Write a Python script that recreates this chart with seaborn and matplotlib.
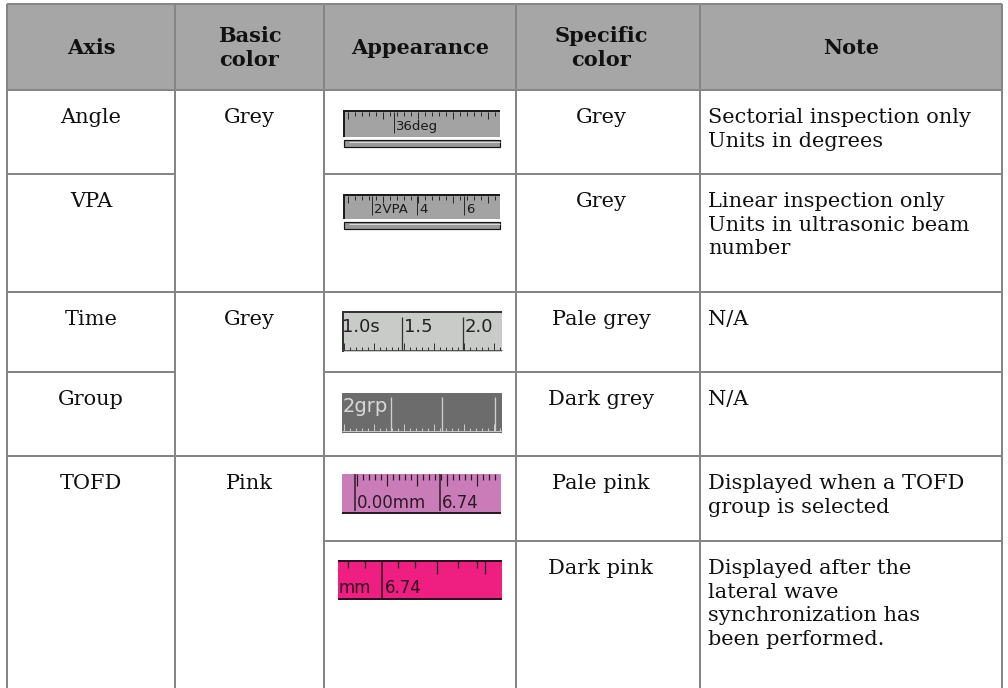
import matplotlib
matplotlib.use("Agg")
import matplotlib.pyplot as plt
import seaborn as sns
from matplotlib.patches import Rectangle

# Table content
header_labels = ["Axis", "Basic\ncolor", "Appearance", "Specific\ncolor", "Note"]
axis_names = ["Angle", "VPA", "Time", "Group", "TOFD"]
basic_colors = ["Grey", "Grey", "Pink"]
specific_colors = ["Grey", "Grey", "Pale grey", "Dark grey", "Pale pink", "Dark pink"]
notes = [
    "Sectorial inspection only\nUnits in degrees",
    "Linear inspection only\nUnits in ultrasonic beam\nnumber",
    "N/A",
    "N/A",
    "Displayed when a TOFD\ngroup is selected",
    "Displayed after the\nlateral wave\nsynchronization has\nbeen performed.",
]
ruler_labels = [["36deg"], ["2VPA", "4", "6"], ["1.0s", "1.5", "2.0"],
                ["2grp"], ["0.00mm", "6.74"], ["mm", "6.74"]]

# Layout (pixels)
col_edges = [7, 175, 324, 516, 700, 1002]
col_shift = [0, 0, 0, -7, 0]
row_edges = [90, 174, 292, 372, 456, 541, 690]
header_top = 4
axis_spans = [(0, 1), (1, 2), (2, 3), (3, 4), (4, 6)]
basic_spans = [(0, 2), (2, 4), (4, 6)]
LINE = "#858585"
HEAD_BG = "#a6a6a6"
PX = 0.72  # points per pixel at 100 dpi

sns.set_theme(style="white")
plt.rcParams["font.family"] = ["DejaVu Serif"]

fig = plt.figure(figsize=(10.08, 6.88), dpi=100)
ax = fig.add_axes([0, 0, 1, 1])
ax.set_xlim(0, 1008)
ax.set_ylim(688, 0)
ax.axis("off")


def rect(x, y, w, h, fc, ec="none", lw=0):
    ax.add_patch(Rectangle((x, y), w, h, facecolor=fc, edgecolor=ec, linewidth=lw * PX))


def hl(y, x0, x1, c, w=1):
    ax.plot([x0, x1], [y, y], color=c, lw=w * PX, solid_capstyle="butt")


def vl(x, y0, y1, c, w=1):
    ax.plot([x, x], [y0, y1], color=c, lw=w * PX, solid_capstyle="butt")


def rtext(x, y, s, c="#1a1a1a", size=9):
    ax.text(x, y, s, color=c, fontsize=size, family="DejaVu Sans",
            ha="left", va="center")


# header
rect(col_edges[0], header_top, col_edges[-1] - col_edges[0], row_edges[0] - header_top, HEAD_BG)
for i, lab in enumerate(header_labels):
    cx = (col_edges[i] + col_edges[i + 1]) / 2 + col_shift[i]
    ax.text(cx, (header_top + row_edges[0]) / 2 + 1, lab, ha="center", va="center",
            fontsize=15, fontweight="bold", linespacing=1.22, color="#111111")

# grid lines
hl(header_top, col_edges[0], col_edges[-1], LINE, 2)
hl(row_edges[0], col_edges[0], col_edges[-1], LINE, 2)
for x in col_edges:
    vl(x, header_top, 688, LINE, 2)
for r in range(1, 6):
    y = row_edges[r]
    if r == 5:
        hl(y, col_edges[2], col_edges[-1], LINE, 2)
    elif r % 2 == 0:
        hl(y, col_edges[0], col_edges[-1], LINE, 2)
    else:
        hl(y, col_edges[0], col_edges[1], LINE, 2)
        hl(y, col_edges[2], col_edges[-1], LINE, 2)

PAD = 18
for name, (a, b) in zip(axis_names, axis_spans):
    ax.text((col_edges[0] + col_edges[1]) / 2, row_edges[a] + PAD, name,
            ha="center", va="top", fontsize=15, color="#111111")
for name, (a, b) in zip(basic_colors, basic_spans):
    ax.text((col_edges[1] + col_edges[2]) / 2, row_edges[a] + PAD, name,
            ha="center", va="top", fontsize=15, color="#111111")
for r, name in enumerate(specific_colors):
    ax.text((col_edges[3] + col_edges[4]) / 2 + col_shift[3], row_edges[r] + PAD, name,
            ha="center", va="top", fontsize=15, color="#111111")
for r, note in enumerate(notes):
    ax.text(col_edges[4] + 8, row_edges[r] + PAD, note, ha="left", va="top",
            fontsize=15, linespacing=1.31, color="#111111")


# ---- appearance images ----
def ruler_scroll(x0, y0, w, h, labels, lines_at):
    # grey ruler with scroll bar (Angle / VPA)
    rect(x0, y0, w, h, "#a3a3a3")
    hl(y0 + 1, x0, x0 + w, "#1c1c1c", 2)
    vl(x0 + 1, y0, y0 + h, "#1c1c1c", 2)
    for i, tx in enumerate(range(x0 + 5, x0 + w, 7)):
        vl(tx, y0 + 2, y0 + (9 if i % 5 == 0 else 6), "#2a2a2a", 1)
    for lx, lab in zip(lines_at, labels):
        vl(lx, y0 + 2, y0 + h - 4, "#2a2a2a", 1)
        rtext(lx + 2, y0 + h * 0.62, lab, size=9.5)
    rect(x0, y0 + h + 1, w, 2, "white")
    rect(x0 + 1, y0 + h + 3, w - 1, 7, "#9a9a9a", "#151515", 1.2)
    hl(y0 + h + 5, x0 + 6, x0 + w, "#d8d8d8", 1)


ruler_scroll(343, 110, 157, 27, ruler_labels[0], [394])
ruler_scroll(343, 194, 157, 25, ruler_labels[1], [372, 417, 464])

# Time (pale grey)
x0, y0, w, h = 342, 311, 160, 41
rect(x0, y0, w, h, "#c8cbc8")
hl(y0 + 1, x0, x0 + w, "#333333", 2)
vl(x0 + 1, y0, y0 + h, "#333333", 2)
hl(y0 + h - 2, x0, x0 + w, "#555555", 1)
for i, tx in enumerate(range(x0 + 2, x0 + w, 6)):
    vl(tx, y0 + h - 2, y0 + h - (9 if i % 5 == 0 else 5), "#333333", 1)
for lx in [402, 463]:
    vl(lx, y0 + 6, y0 + h - 2, "#333333", 1.3)
for lx, lab in zip([342, 404, 465], ruler_labels[2]):
    rtext(lx, y0 + 16, lab, c="#222222", size=13)

# Group (dark grey)
x0, y0, w, h = 342, 393, 160, 40
rect(x0, y0, w, h, "#6c6c6c")
hl(y0 + h - 2, x0, x0 + w, "#c8c8c8", 1)
for i, tx in enumerate(range(x0 + 2, x0 + w, 6)):
    vl(tx, y0 + h - 2, y0 + h - (9 if i % 5 == 0 else 5), "#c8c8c8", 1)
for lx in [391, 442, 495]:
    vl(lx, y0 + 4, y0 + h - 2, "#d0d0d0", 1.3)
rtext(343, y0 + 14, ruler_labels[3][0], c="#d8d8d8", size=14)

# TOFD pale pink
x0, y0, w, h = 342, 474, 159, 40
rect(x0, y0, w, h, "#c97cb8")
hl(y0 + h - 1, x0, x0 + w, "#2a1a24", 2)
for i, tx in enumerate(range(x0 + 15, x0 + w, 6)):
    vl(tx, y0, y0 + (12 if i % 5 == 0 else 6), "#2a1a24", 1.2)
for lx, lab in zip([355, 440], ruler_labels[4]):
    vl(lx, y0, y0 + h - 3, "#2a1a24", 1.5)
    rtext(lx + 2, y0 + 29, lab, c="#2a1a24", size=12)

# TOFD dark pink
x0, y0, w, h = 338, 560, 164, 40
rect(x0, y0, w, h, "#ee1f80")
hl(y0 + 1, x0, x0 + w, "#2a1020", 2)
hl(y0 + h - 1, x0, x0 + w, "#2a1020", 2)
for tx in [348, 365, 398, 415, 437, 458, 477, 485]:
    vl(tx, y0, y0 + (14 if tx in (437, 485) else 8), "#2a1020", 1.3)
vl(382, y0, y0 + h - 2, "#2a1020", 1.5)
rtext(339, y0 + 28, ruler_labels[5][0], c="#2a1020", size=12)
rtext(385, y0 + 28, ruler_labels[5][1], c="#2a1020", size=12)

fig.savefig("out.png", dpi=100)
